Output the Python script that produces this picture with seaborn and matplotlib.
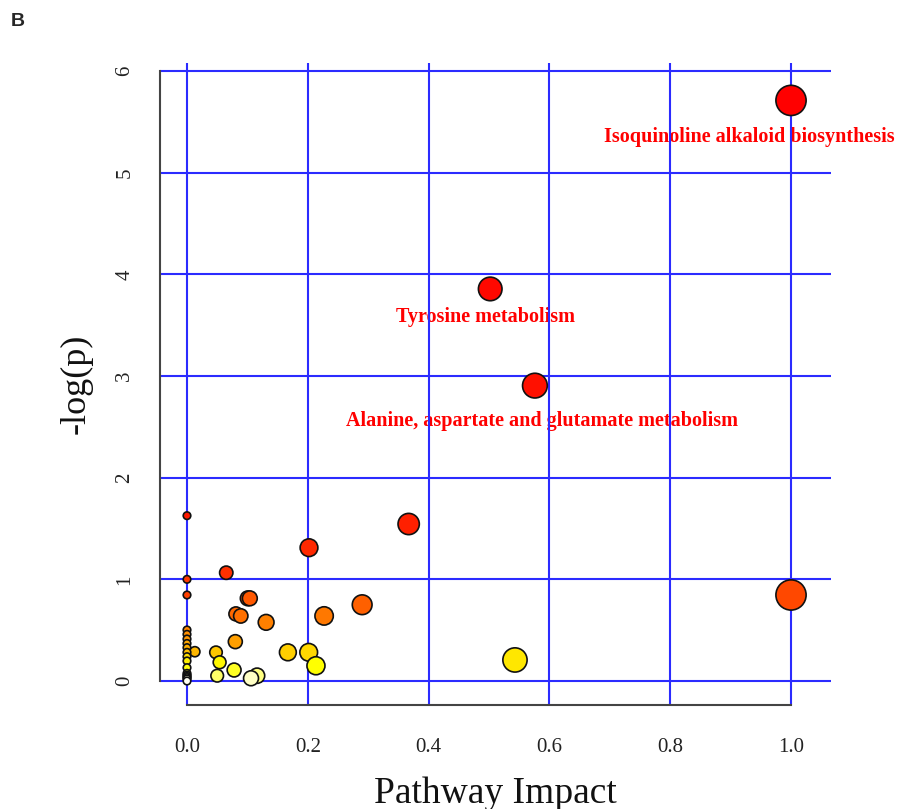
import colorsys
import numpy as np
import pandas as pd
import matplotlib
matplotlib.use("Agg")
import matplotlib.pyplot as plt
import seaborn as sns

# ---------------- data ----------------
impact = [1.0, 0.502, 0.576, 0.0, 0.367, 0.202, 0.065, 0.0, 0.0, 1.0,
          0.1005, 0.104, 0.29, 0.081, 0.089, 0.227, 0.131,
          0.0, 0.0, 0.0, 0.0, 0.0, 0.0, 0.0, 0.0, 0.0, 0.0, 0.0, 0.0, 0.0, 0.0, 0.0,
          0.080, 0.013, 0.048, 0.167, 0.2015, 0.054, 0.543, 0.2135, 0.078,
          0.05, 0.116, 0.106]
neglogp = [5.71, 3.856, 2.905, 1.626, 1.544, 1.311, 1.065, 1.0, 0.846, 0.846,
           0.813, 0.813, 0.75, 0.66, 0.64, 0.64, 0.577,
           0.502, 0.459, 0.413, 0.369, 0.328, 0.282, 0.239, 0.197, 0.131,
           0.075, 0.058, 0.045, 0.033, 0.02, 0.0,
           0.387, 0.288, 0.282, 0.282, 0.282, 0.184, 0.207, 0.15, 0.108,
           0.052, 0.052, 0.027]

label_text = ["Isoquinoline alkaloid biosynthesis", "Tyrosine metabolism",
              "Alanine, aspartate and glutamate metabolism"]
label_x = [0.9316, 0.4934, 0.587]
label_y = [5.354, 3.580, 2.557]

x_ticks = [0.0, 0.2, 0.4, 0.6, 0.8, 1.0]
x_tick_labels = ["0.0", "0.2", "0.4", "0.6", "0.8", "1.0"]
y_ticks = [0, 1, 2, 3, 4, 5, 6]
y_tick_labels = ["0", "1", "2", "3", "4", "5", "6"]


# ---------------- R heat.colors ----------------
def heat_colors(n):
    j = n // 4
    i = n - j
    cols = [colorsys.hsv_to_rgb(h, 1.0, 1.0) for h in np.linspace(0, 1 / 6, i)]
    if j > 0:
        for s in np.linspace(1 - 1 / (2 * j), 1 / (2 * j), j):
            cols.append(colorsys.hsv_to_rgb(1 / 6, s, 1.0))
    return cols


df = pd.DataFrame({"impact": impact, "neglogp": neglogp})
df = df.sort_values("neglogp", ascending=False, kind="stable").reset_index(drop=True)
df["rank"] = np.arange(len(df))
pal = dict(zip(df["rank"], heat_colors(len(df))))

# ---------------- figure / axes ----------------
W, H, DPI = 900, 809, 100
fig = plt.figure(figsize=(W / DPI, H / DPI), dpi=DPI)
sns.set_style("white")
plt.rcParams["font.family"] = ["Liberation Serif", "DejaVu Serif"]

ax_l, ax_r, ax_t, ax_b = 160, 831, 63, 705
ax = fig.add_axes([ax_l / W, 1 - ax_b / H, (ax_r - ax_l) / W, (ax_b - ax_t) / H])
xlim = (-0.0447, 1.0662)
ylim = (-0.236, 6.078)
ax.set_xlim(*xlim)
ax.set_ylim(*ylim)

# circle radius as in MetaboAnalyst (in x-data units), converted to marker area
px_per_x = (ax_r - ax_l) / (xlim[1] - xlim[0])
sq = np.sqrt(np.array(impact))
mn, mx = sq.min(), sq.max()
maxR, minR = (mx - mn) / 40, (mx - mn) / 160
size_map = {}
for v in sorted(set(impact)):
    r = minR + (maxR - minR) * (np.sqrt(v) - mn) / (mx - mn)
    r_pt = r * px_per_x * 72 / DPI
    size_map[v] = (2 * r_pt) ** 2

ax.grid(True, color="#2b2bff", linewidth=1.5)
ax.set_axisbelow(True)

sns.scatterplot(data=df, x="impact", y="neglogp", hue="rank", palette=pal,
                size="impact", sizes=size_map, edgecolor="#111111",
                linewidth=1.2, legend=False, ax=ax, zorder=3, clip_on=False)

for t, tx, ty in zip(label_text, label_x, label_y):
    ax.text(tx, ty, t, color="#ff0000", fontsize=14.5, fontweight="bold",
            ha="center", va="center", zorder=0.4)

ax.set_xticks(x_ticks)
ax.set_xticklabels(x_tick_labels)
ax.set_yticks(y_ticks)
ax.set_yticklabels(y_tick_labels, rotation=90, va="center")

for s in ["top", "right"]:
    ax.spines[s].set_visible(False)
for s in ["left", "bottom"]:
    ax.spines[s].set_color("#444444")
    ax.spines[s].set_linewidth(1.5)
ax.spines["left"].set_bounds(0, 6)
ax.spines["bottom"].set_bounds(0, 1)

ax.tick_params(axis="both", which="major", length=9.5, width=1.5, color="#444444",
               labelsize=15, labelcolor="#222222")
ax.tick_params(axis="x", pad=14)
ax.tick_params(axis="y", pad=9)

ax.set_xlabel("Pathway Impact", fontsize=27, labelpad=14, color="#111111")
ax.set_ylabel("-log(p)", fontsize=26, labelpad=16, color="#111111")

fig.text(11 / W, 1 - 13 / H, "B", fontsize=14, fontweight="bold",
         family=["Liberation Sans", "DejaVu Sans"], ha="left", va="top")

fig.savefig("out.png", dpi=DPI)
